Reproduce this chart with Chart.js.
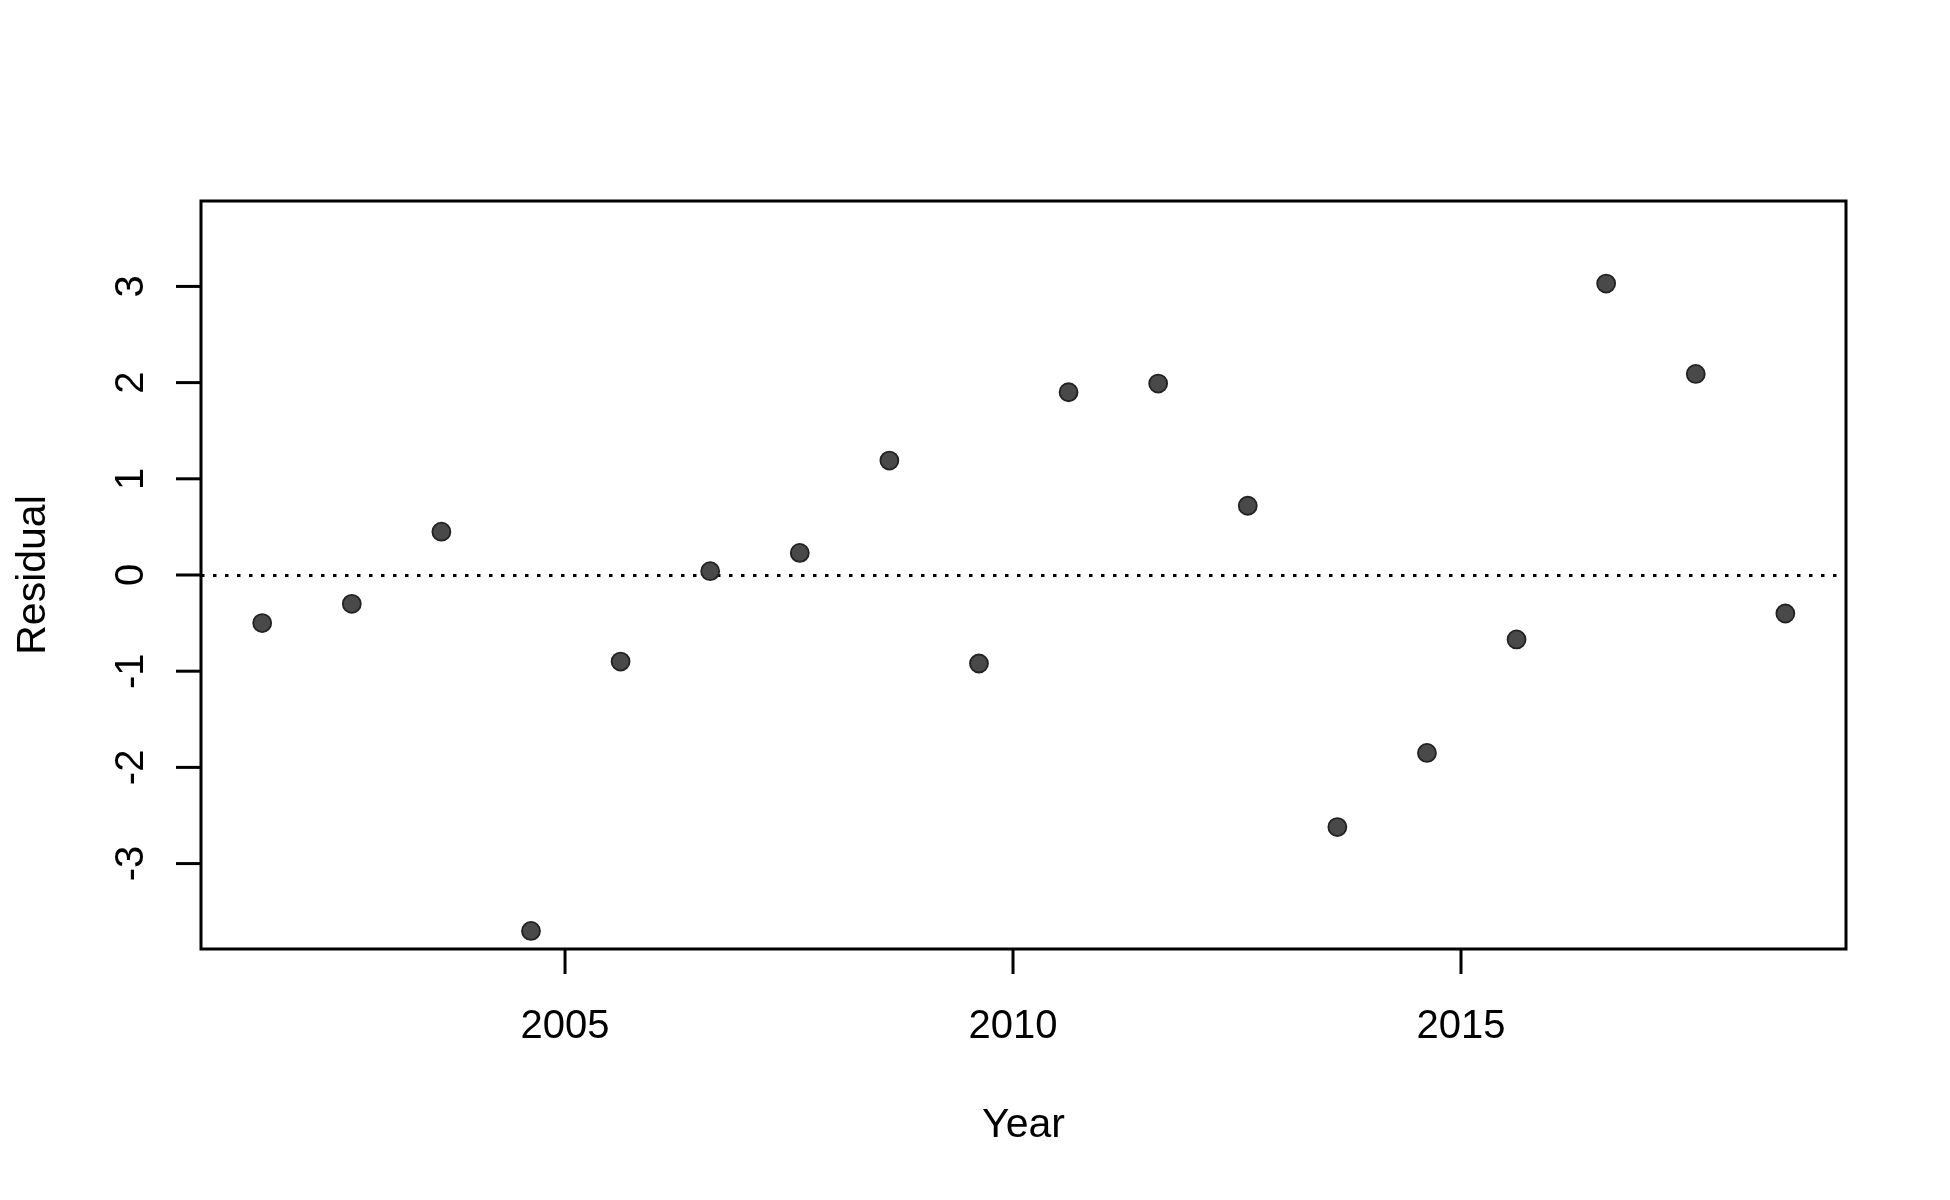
<!DOCTYPE html>
<html>
<head>
<meta charset="utf-8">
<script src="https://cdn.jsdelivr.net/npm/chart.js@4/dist/chart.umd.min.js"></script>
<style>
  html, body { margin: 0; padding: 0; background: #ffffff; }
  #wrap { width: 1950px; height: 1200px; }
</style>
</head>
<body>
<div id="wrap"><canvas id="c" width="1950" height="1200"></canvas></div>
<script>
// ---- data ----
const years = [2001.62, 2002.62, 2003.62, 2004.62, 2005.62, 2006.62, 2007.62, 2008.62, 2009.62,
               2010.62, 2011.62, 2012.62, 2013.62, 2014.62, 2015.62, 2016.62, 2017.62, 2018.62];
const residuals = [-0.50, -0.30, 0.45, -3.70, -0.90, 0.04, 0.23, 1.19, -0.92,
                   1.90, 1.99, 0.72, -2.62, -1.85, -0.67, 3.03, 2.09, -0.40];
const xTicks = [2005, 2010, 2015];
const yTicks = [-3, -2, -1, 0, 1, 2, 3];
const xTitle = "Year";
const yTitle = "Residual";

const FONT = '"Liberation Sans", Arial, sans-serif';

const points = years.map((x, i) => ({ x: x, y: residuals[i] }));

const rPlot = {
  id: 'rPlot',
  beforeDatasetsDraw(chart) {
    const ctx = chart.ctx, a = chart.chartArea, ys = chart.scales.y;
    const y0 = Math.round(ys.getPixelForValue(0)) + 0.5;
    ctx.save();
    ctx.strokeStyle = '#000';
    ctx.lineWidth = 3;
    ctx.setLineDash([3.5, 8.5]);
    ctx.beginPath();
    ctx.moveTo(a.left, y0);
    ctx.lineTo(a.right, y0);
    ctx.stroke();
    ctx.restore();
  },
  afterDraw(chart) {
    const ctx = chart.ctx, a = chart.chartArea;
    const xs = chart.scales.x, ys = chart.scales.y;
    ctx.save();
    ctx.strokeStyle = '#000';
    ctx.lineWidth = 3;
    ctx.setLineDash([]);
    // box
    ctx.strokeRect(a.left, a.top, a.right - a.left, a.bottom - a.top);
    // x ticks
    ctx.fillStyle = '#000';
    ctx.font = '40px ' + FONT;
    ctx.textAlign = 'center';
    ctx.textBaseline = 'alphabetic';
    xTicks.forEach(t => {
      const px = xs.getPixelForValue(t);
      ctx.beginPath();
      ctx.moveTo(px, a.bottom);
      ctx.lineTo(px, a.bottom + 25);
      ctx.stroke();
      ctx.fillText(String(t), px, a.bottom + 89);
    });
    // y ticks
    yTicks.forEach(t => {
      const py = ys.getPixelForValue(t);
      ctx.beginPath();
      ctx.moveTo(a.left, py);
      ctx.lineTo(a.left - 25, py);
      ctx.stroke();
      ctx.save();
      ctx.translate(a.left - 58, py);
      ctx.rotate(-Math.PI / 2);
      ctx.fillText(String(t), 0, 0);
      ctx.restore();
    });
    // titles
    ctx.font = '41px ' + FONT;
    ctx.fillText(xTitle, (a.left + a.right) / 2, a.bottom + 188);
    ctx.save();
    ctx.translate(45, (a.top + a.bottom) / 2);
    ctx.rotate(-Math.PI / 2);
    ctx.fillText(yTitle, 0, 0);
    ctx.restore();
    ctx.restore();
  }
};

new Chart(document.getElementById('c'), {
  type: 'scatter',
  data: {
    datasets: [{
      data: points,
      pointRadius: 9,
      pointHoverRadius: 9,
      pointBorderWidth: 1.8,
      pointBackgroundColor: '#494949',
      pointBorderColor: '#222222',
      showLine: false
    }]
  },
  options: {
    responsive: false,
    animation: false,
    devicePixelRatio: 1,
    events: [],
    layout: { padding: { left: 201, top: 201, right: 104, bottom: 251 } },
    plugins: { legend: { display: false }, tooltip: { enabled: false } },
    scales: {
      x: { type: 'linear', display: false, min: 2000.937, max: 2019.297 },
      y: { type: 'linear', display: false, min: -3.888, max: 3.888 }
    }
  },
  plugins: [rPlot]
});
</script>
</body>
</html>
